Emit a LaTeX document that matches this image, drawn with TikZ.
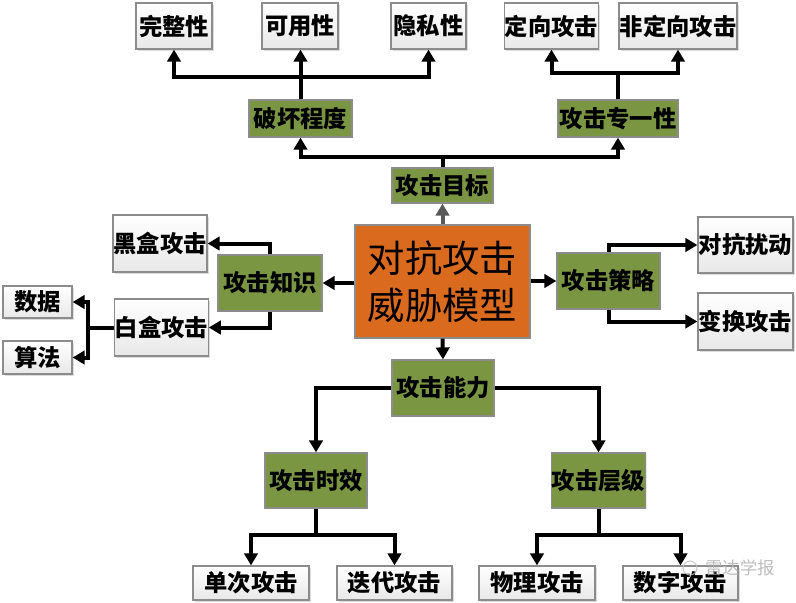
\documentclass[tikz,border=0pt]{standalone}
\usepackage{fontspec}
\setmainfont{Noto Sans CJK SC}
\usetikzlibrary{arrows.meta,shadows}
\definecolor{olive}{HTML}{7B9643}
\definecolor{orng}{HTML}{DA6B1E}
\definecolor{bordergray}{HTML}{8C8C8C}
\begin{document}
\begin{tikzpicture}[x=0.75pt,y=-0.75pt,
  sz/.style 2 args={minimum width=#1*0.75pt, minimum height=#2*0.75pt},
  basebox/.style={draw=bordergray, line width=0.9pt, inner sep=0pt, font=\fontsize{17.5}{19}\selectfont\bfseries},
  wbox/.style={basebox, top color=white, bottom color=gray!18,
    drop shadow={shadow xshift=1.2pt, shadow yshift=-1.2pt, fill=gray!45, opacity=0.6}},
  gbox/.style={basebox, fill=olive, drop shadow={shadow xshift=1pt, shadow yshift=-1pt, fill=gray!40, opacity=0.5}},
  cbox/.style={draw=bordergray, line width=0.9pt, fill=orng, inner sep=0pt, align=center,
    font=\fontsize{28}{35}\selectfont},
  ln/.style={line width=3pt, black},
  arr/.style={ln, -{Triangle[length=9pt,width=10pt]}},
]
\useasboundingbox (0,0) rectangle (796,603);
% top row
\node[wbox, sz={76}{46}] (wz) at (174,26) {完整性};
\node[wbox, sz={76}{46}] (ky) at (300,26) {可用性};
\node[wbox, sz={75}{46}] (ys) at (428.5,26) {隐私性};
\node[wbox, sz={93}{46}] (dx) at (551.5,26) {定向攻击};
\node[wbox, sz={118}{46}] (fdx) at (678,26) {非定向攻击};
% second row
\node[gbox, sz={103}{37}] (ph) at (300.5,118.5) {破坏程度};
\node[gbox, sz={120}{37}] (zx) at (618,118.5) {攻击专一性};
\node[gbox, sz={101}{35}] (mb) at (442.5,185.5) {攻击目标};
% center
\node[cbox, sz={175}{113}] (c) at (442.5,281.5) {对抗攻击\\威胁模型};
% right
\node[gbox, sz={103}{56}] (cl) at (608.5,281) {攻击策略};
\node[wbox, sz={95}{56}] (dk) at (745.5,245) {对抗扰动};
\node[wbox, sz={95}{57}] (bh) at (745.5,321.5) {变换攻击};
% left
\node[gbox, sz={104}{56}] (zs) at (270,283) {攻击知识};
\node[wbox, sz={94}{57}] (hh) at (160,243.5) {黑盒攻击};
\node[wbox, sz={93}{57}] (bb) at (161.5,327.5) {白盒攻击};
\node[wbox, sz={69}{32}] (sj) at (37.5,302) {数据};
\node[wbox, sz={69}{33}] (sf) at (37.5,357.5) {算法};
% bottom
\node[gbox, sz={102}{56}] (nl) at (443,388) {攻击能力};
\node[gbox, sz={102}{55}] (sx) at (316,480.5) {攻击时效};
\node[gbox, sz={93}{55}] (cj) at (598.5,480.5) {攻击层级};
\node[wbox, sz={116}{34}] (dc) at (251,583) {单次攻击};
\node[wbox, sz={115}{34}] (dd) at (394.5,583) {迭代攻击};
\node[wbox, sz={116}{34}] (wl) at (537,583) {物理攻击};
\node[wbox, sz={115}{34}] (sz) at (680.5,583) {数字攻击};

% connectors: top left group
\coordinate (h1) at (300.5,77);
\draw[ln] (ph.north) -- (h1);
\draw[arr] (h1) -| (wz.south);
\draw[arr] (h1) -| (ys.south);
\draw[arr] (h1) -- (h1 |- ky.south);
% top right group
\coordinate (h2) at (618,73);
\draw[ln] (zx.north) -- (h2);
\draw[arr] (h2) -| (dx.south);
\draw[arr] (h2) -| (fdx.south);
% attack target
\coordinate (h3) at (442.5,157);
\draw[ln] (mb.north) -- (h3);
\draw[arr] (h3) -| (ph.south);
\draw[arr] (h3) -| (zx.south);
\draw[line width=3pt, gray!70!black, -{Triangle[length=9pt,width=10pt]}] (c.north) -- (mb.south);
% strategy
\draw[arr] (c.east |- cl.west) -- (cl.west);
\draw[arr] (cl.north) |- (dk.west);
\draw[arr] (cl.south) |- (bh.west);
% knowledge
\draw[arr] (c.west |- zs.east) -- (zs.east);
\draw[arr] (zs.north) |- (hh.east);
\draw[arr] (zs.south) |- (bb.east);
\coordinate (v) at (88,327.5);
\draw[ln] (bb.west) -- (v);
\draw[arr] (v) |- (sj.east);
\draw[arr] (v) |- (sf.east);
% capability
\draw[arr] (c.south) -- (nl.north);
\draw[arr] (nl.west) -| (sx.north);
\draw[arr] (nl.east) -| (cj.north);
\coordinate (h4) at (316,535);
\draw[ln] (sx.south) -- (h4);
\draw[arr] (h4) -| (dc.north);
\draw[arr] (h4) -| (dd.north);
\coordinate (h5) at (598.5,535);
\draw[ln] (cj.south) -- (h5);
\draw[arr] (h5) -| (wl.north);
\draw[arr] (h5) -| (sz.north);
% watermark
\node[text=gray!60, font=\fontsize{13}{15}\selectfont, opacity=0.85] (wm) at (740,568) {雷达学报};
\draw[gray!50, line width=0.8pt, opacity=0.8] (690,568) circle (7);
\end{tikzpicture}
\end{document}
